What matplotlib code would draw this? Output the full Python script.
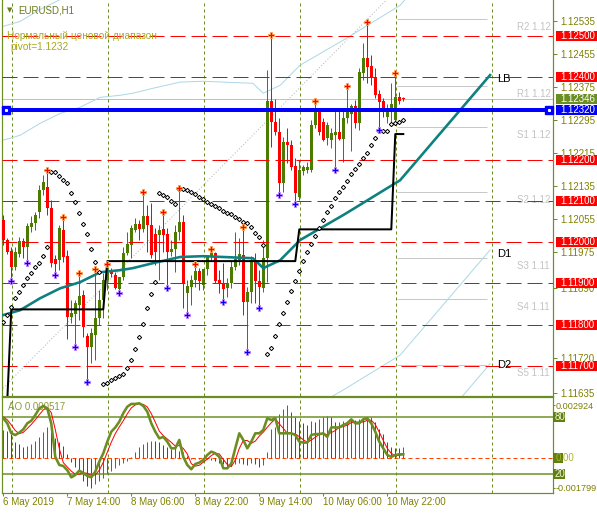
import numpy as np
import matplotlib
matplotlib.use('Agg')
import matplotlib.pyplot as plt
from matplotlib.patches import Rectangle
from matplotlib.transforms import blended_transform_factory

plt.rcParams['font.family'] = ['Liberation Sans', 'DejaVu Sans']

# EURUSD H1, bar 0 is the leftmost bar on the chart
opens = [1.12053, 1.12005, 1.11978, 1.11939, 1.11971, 1.12002, 1.11988, 1.12036, 1.12046, 1.12073,
         1.12126, 1.12133, 1.12082, 1.11959, 1.11956, 1.12029, 1.11966, 1.11818, 1.11825, 1.11847,
         1.11871, 1.11772, 1.11745, 1.11775, 1.11816, 1.11859, 1.11908, 1.11930, 1.11920, 1.11886,
         1.11915, 1.11973, 1.11993, 1.12029, 1.12044, 1.12031, 1.12063, 1.12041, 1.12019, 1.12017,
         1.12031, 1.12019, 1.11976, 1.11983, 1.12024, 1.12048, 1.11876, 1.11891, 1.11908, 1.11930,
         1.11896, 1.11934, 1.11966, 1.11973, 1.11908, 1.11898, 1.11888, 1.11900, 1.11939, 1.11956,
         1.11968, 1.11855, 1.11879, 1.11956, 1.11905, 1.11888, 1.11961, 1.12342, 1.12291, 1.12266,
         1.12143, 1.12242, 1.12235, 1.12184, 1.12109, 1.12172, 1.12174, 1.12174, 1.12283, 1.12320,
         1.12291, 1.12252, 1.12247, 1.12259, 1.12266, 1.12250, 1.12300, 1.12310, 1.12330, 1.12288,
         1.12410, 1.12446, 1.12427, 1.12400, 1.12359, 1.12342, 1.12303, 1.12315, 1.12296, 1.12351,
         1.12349]
highs = [1.12065, 1.12010, 1.11988, 1.11988, 1.12012, 1.12010, 1.12046, 1.12063, 1.12073, 1.12138,
         1.12162, 1.12170, 1.12102, 1.11968, 1.12041, 1.12056, 1.11981, 1.11859, 1.11859, 1.11920,
         1.11884, 1.11779, 1.11791, 1.11930, 1.11884, 1.11925, 1.11942, 1.11937, 1.11927, 1.11915,
         1.11988, 1.12024, 1.12041, 1.12058, 1.12053, 1.12116, 1.12090, 1.12094, 1.12034, 1.12041,
         1.12068, 1.12034, 1.12005, 1.12041, 1.12126, 1.12065, 1.11908, 1.11920, 1.11942, 1.11937,
         1.11932, 1.11968, 1.11978, 1.11976, 1.11932, 1.11949, 1.11913, 1.11956, 1.12024, 1.12010,
         1.12031, 1.11891, 1.11966, 1.11973, 1.11932, 1.12005, 1.12417, 1.12497, 1.12347, 1.12300,
         1.12254, 1.12276, 1.12247, 1.12204, 1.12199, 1.12187, 1.12194, 1.12296, 1.12337, 1.12325,
         1.12300, 1.12291, 1.12276, 1.12320, 1.12322, 1.12320, 1.12373, 1.12334, 1.12344, 1.12422,
         1.12482, 1.12528, 1.12453, 1.12422, 1.12368, 1.12349, 1.12334, 1.12385, 1.12405, 1.12364,
         1.12352]
lows = [1.11993, 1.11971, 1.11910, 1.11932, 1.11964, 1.11961, 1.11955, 1.12024, 1.12029, 1.12058,
        1.12114, 1.12065, 1.11939, 1.11925, 1.11932, 1.11951, 1.11765, 1.11804, 1.11750, 1.11811,
        1.11770, 1.11665, 1.11707, 1.11714, 1.11799, 1.11816, 1.11884, 1.11915, 1.11886, 1.11881,
        1.11908, 1.11968, 1.11961, 1.12024, 1.12005, 1.12024, 1.11976, 1.11961, 1.11944, 1.11908,
        1.11976, 1.11893, 1.11966, 1.11927, 1.12005, 1.11840, 1.11828, 1.11847, 1.11891, 1.11884,
        1.11884, 1.11920, 1.11956, 1.11900, 1.11876, 1.11859, 1.11867, 1.11888, 1.11932, 1.11944,
        1.11823, 1.11738, 1.11852, 1.11852, 1.11845, 1.11879, 1.11903, 1.12230, 1.12259, 1.12119,
        1.12121, 1.12191, 1.12174, 1.12097, 1.12102, 1.12162, 1.12167, 1.12170, 1.12276, 1.12259,
        1.12245, 1.12235, 1.12228, 1.12179, 1.12247, 1.12194, 1.12288, 1.12221, 1.12276, 1.12271,
        1.12393, 1.12385, 1.12381, 1.12349, 1.12276, 1.12303, 1.12288, 1.12288, 1.12283, 1.12334,
        1.12342]
closes = [1.12005, 1.11976, 1.11939, 1.11976, 1.12002, 1.11988, 1.12039, 1.12046, 1.12065, 1.12126,
          1.12145, 1.12082, 1.11949, 1.11947, 1.12034, 1.11964, 1.11818, 1.11828, 1.11852, 1.11869,
          1.11794, 1.11745, 1.11779, 1.11816, 1.11859, 1.11908, 1.11932, 1.11922, 1.11888, 1.11915,
          1.11973, 1.11995, 1.12034, 1.12044, 1.12031, 1.12063, 1.12041, 1.11968, 1.11976, 1.12029,
          1.12017, 1.11976, 1.11983, 1.12024, 1.12048, 1.11900, 1.11893, 1.11908, 1.11930, 1.11905,
          1.11934, 1.11966, 1.11973, 1.11905, 1.11898, 1.11886, 1.11900, 1.11939, 1.11959, 1.11971,
          1.11855, 1.11879, 1.11956, 1.11905, 1.11891, 1.11961, 1.12342, 1.12291, 1.12266, 1.12143,
          1.12242, 1.12235, 1.12182, 1.12119, 1.12174, 1.12182, 1.12182, 1.12283, 1.12320, 1.12266,
          1.12247, 1.12283, 1.12264, 1.12266, 1.12250, 1.12300, 1.12315, 1.12330, 1.12288, 1.12412,
          1.12446, 1.12424, 1.12400, 1.12356, 1.12339, 1.12315, 1.12315, 1.12334, 1.12351, 1.12342,
          1.12346]

# parabolic SAR, one value per bar
sar = [1.11806, 1.11823, 1.11842, 1.11864, 1.11879, 1.11896, 1.11913, 1.11925, 1.11939, 1.11949,
       1.11966, 1.11988, 1.12170, 1.12170, 1.12160, 1.12150, 1.12143, 1.12119, 1.12097, 1.12070,
       1.12044, 1.12019, 1.11983, 1.11951, 1.11927, 1.11656, 1.11658, 1.11665, 1.11670, 1.11675,
       1.11680, 1.11694, 1.11714, 1.11741, 1.11770, 1.11801, 1.11840, 1.11874, 1.11903, 1.12119,
       1.12114, 1.12109, 1.12099, 1.12092, 1.12128, 1.12128, 1.12126, 1.12121, 1.12116, 1.12109,
       1.12104, 1.12097, 1.12092, 1.12087, 1.12082, 1.12075, 1.12070, 1.12068, 1.12060, 1.12056,
       1.12048, 1.12046, 1.12036, 1.12022, 1.12012, 1.11993, 1.11728, 1.11743, 1.11772, 1.11801,
       1.11828, 1.11855, 1.11881, 1.11905, 1.11930, 1.11954, 1.11976, 1.11995, 1.12014, 1.12034,
       1.12053, 1.12073, 1.12087, 1.12107, 1.12121, 1.12133, 1.12148, 1.12165, 1.12177, 1.12189,
       1.12204, 1.12216, 1.12235, 1.12252, 1.12269, 1.12269, 1.12269, 1.12286, 1.12288, 1.12291,
       1.12296]

# fractals (bar numbers)
fractal_up = [11, 15, 19, 23, 26, 35, 40, 44, 48, 52, 60, 67, 78, 86, 91, 98]
fractal_down = [2, 6, 13, 18, 21, 29, 41, 46, 55, 61, 64, 69, 73, 83, 94]

# moving average + its projection (ends at LB)
ma_bar = [-0.8, 4.2, 9.2, 14.2, 19.2, 24.2, 29.2, 32.4, 37.4, 44.2, 50.0, 62.4, 65.0, 69.2, 74.2,
          85.4, 99.2, 114.2, 121.7]
ma_val = [1.11821, 1.11835, 1.11864, 1.11888, 1.11903, 1.11927, 1.11932, 1.11937, 1.11949, 1.11964,
          1.11966, 1.11961, 1.11937, 1.11956, 1.12005, 1.12068, 1.12150, 1.12320, 1.12405]
env_near = 0.00424
env_far = 0.00700

# black step line
step_bar = [0, 1, 2, 25, 26, 73, 74, 97, 98, 100]
step_val = [1.11610, 1.11617, 1.11837, 1.11837, 1.11954, 1.11954, 1.12031, 1.12031, 1.12262, 1.12262]

# dotted diagonal
diag_bar = [-0.1, 97.1]
diag_val = [1.11646, 1.12600]

levels = [1.12500, 1.12400, 1.12200, 1.12100, 1.12000, 1.11900, 1.11800, 1.11700]
pivot = 1.12320
bid = 1.12346
piv_names = ['R2 1.12', 'R1 1.12', 'S1 1.12', 'S2 1.12', 'S3 1.11', 'S4 1.11', 'S5 1.11']
piv_vals = [1.12540, 1.12378, 1.12279, 1.12121, 1.11961, 1.11862, 1.11702]

price_ticks = [1.12535, 1.12455, 1.12375, 1.12295, 1.12215, 1.12135, 1.12055, 1.11975, 1.11890,
               1.11720, 1.11635]

# Awesome oscillator
ao = [0.00140, 0.00138, 0.00121, 0.00079, 0.00070, 0.00053, 0.00058, 0.00070, 0.00087, 0.00104,
      0.00130, 0.00156, 0.00130, 0.00100, 0.00080, 0.00060, 0.00020, -0.00024, -0.00050, -0.00067,
      -0.00118, -0.00144, -0.00155, -0.00137, -0.00118, -0.00106, -0.00086, -0.00067, -0.00055, -0.00038,
      -0.00026, -0.00017, 0.00005, 0.00026, 0.00053, 0.00070, 0.00082, 0.00087, 0.00086, 0.00080,
      0.00062, 0.00053, 0.00045, 0.00050, 0.00034, 0.00026, 0.00010, -0.00010, -0.00008, -0.00010,
      -0.00017, -0.00010, -0.00012, -0.00017, -0.00026, -0.00034, -0.00048, -0.00043, -0.00034, -0.00026,
      -0.00034, -0.00038, -0.00030, -0.00034, -0.00050, -0.00040, 0.00030, 0.00147, 0.00156, 0.00224,
      0.00250, 0.00267, 0.00233, 0.00210, 0.00185, 0.00175, 0.00165, 0.00185, 0.00181, 0.00198,
      0.00207, 0.00215, 0.00207, 0.00180, 0.00182, 0.00186, 0.00188, 0.00190, 0.00192, 0.00195,
      0.00198, 0.00202, 0.00207, 0.00181, 0.00147, 0.00120, 0.00079, 0.00053, 0.00050, 0.00048,
      0.000517]

stoch_main = [78.6, 73.3, 62.8, 61.0, 63.5, 67.0, 73.3, 76.0, 82.0, 89.0,
              91.6, 89.0, 73.0, 38.0, 29.5, 28.4, 24.0, 16.5, 19.0, 23.5,
              21.0, 18.0, 16.5, 22.5, 33.0, 41.8, 54.0, 64.5, 69.0, 75.0,
              84.0, 90.8, 93.7, 93.7, 94.4, 91.6, 85.6, 73.3, 64.5, 57.5,
              59.0, 54.0, 47.0, 47.0, 55.8, 38.0, 29.5, 25.0, 30.5, 32.0,
              34.7, 40.0, 43.5, 41.8, 38.0, 26.0, 26.0, 31.0, 47.0, 62.8,
              55.8, 47.0, 54.0, 62.8, 62.8, 66.3, 78.6, 76.8, 78.6, 62.8,
              62.8, 62.8, 62.8, 61.0, 54.0, 53.0, 53.0, 61.0, 62.0, 62.0,
              62.8, 59.0, 69.0, 69.0, 69.0, 71.6, 73.3, 77.5, 73.3, 73.3,
              77.5, 78.6, 73.3, 64.5, 54.0, 47.0, 40.0, 38.0, 40.0, 40.7,
              40.7]
stoch_signal = [80.0, 77.0, 71.6, 65.7, 62.4, 63.8, 67.9, 72.1, 77.1, 82.3,
                87.5, 89.9, 84.5, 66.7, 46.8, 32.0, 27.3, 23.0, 19.8, 19.7,
                21.2, 20.8, 18.5, 19.0, 24.0, 32.4, 42.9, 53.4, 62.5, 69.5,
                76.0, 83.3, 89.5, 92.7, 93.9, 93.2, 90.5, 83.5, 74.5, 65.1,
                60.3, 56.8, 53.3, 49.3, 49.9, 46.9, 41.1, 30.8, 28.3, 29.2,
                32.4, 35.6, 39.4, 41.8, 41.1, 35.3, 30.0, 27.7, 34.7, 46.9,
                55.2, 55.2, 52.3, 54.6, 59.9, 64.0, 69.2, 73.9, 78.0, 72.7,
                68.1, 62.8, 62.8, 62.2, 59.3, 56.0, 53.3, 55.7, 58.7, 61.7,
                62.3, 61.3, 63.6, 65.7, 69.0, 69.9, 71.3, 74.1, 74.7, 74.7,
                74.7, 76.5, 76.5, 72.1, 63.9, 55.2, 47.0, 41.7, 39.3, 39.6,
                40.5]

time_bars = [0, 16, 32, 48, 64, 80, 96]
time_labels = ['6 May 2019', '7 May 14:00', '8 May 06:00', '8 May 22:00', '9 May 14:00',
               '10 May 06:00', '10 May 22:00']
day_bars = [2.1, 26.1, 50.1, 74.1, 98.1, 122.1]

BULL = '#4b7b00'
BEAR = '#ff0000'
OLIVE = '#6b8e23'
TXT = '#808000'


def px(n):
    # pixels -> points (figure is saved at 100 dpi)
    return n * 0.72


def main():
    fig = plt.figure(figsize=(5.97, 5.14), dpi=100)
    W, H = 597.0, 514.0
    ax = fig.add_axes([2 / W, 118 / H, 551 / W, 396 / H])
    ax_ao = fig.add_axes([2 / W, 21 / H, 551 / W, 96 / H])

    xlim = (-0.325, 137.43)
    ax.set_xlim(*xlim)
    ax.set_ylim(1.11627, 1.12587)

    bars = np.arange(len(opens))
    o, h, l, c = map(np.array, (opens, highs, lows, closes))
    col = np.where(c >= o, BULL, BEAR)

    # candles
    ax.vlines(bars, l, h, colors=col, lw=px(1), zorder=3)
    body = np.maximum(np.abs(c - o), 0.00003)
    ax.bar(bars, body, bottom=np.minimum(o, c), width=0.7, color=col, linewidth=0, zorder=3)

    # horizontal objects
    for lv in levels:
        ax.axhline(lv, color='#ff0000', lw=px(1), dashes=(15, 6), zorder=4)
    ax.axhline(bid, color='#c0c0c0', lw=px(1), zorder=1)
    ax.hlines(piv_vals, 98.4, 121.0, color='#c8c8c8', lw=px(1), zorder=1)
    for name, v in zip(piv_names, piv_vals):
        ax.annotate(name, (128.4, v), xytext=(0, -2), textcoords='offset points',
                    color='#c4c4c4', fontsize=7, va='top', ha='left', annotation_clip=False,
                    clip_on=True)
    for d in day_bars:
        ax.axvline(d, color=OLIVE, lw=px(1), dashes=(3, 3), zorder=1)

    # indicators
    ma_bar_a = np.array(ma_bar)
    ma_val_a = np.array(ma_val)
    for off in (env_near, -env_near, env_far, -env_far):
        ax.plot(ma_bar_a, ma_val_a + off, color='#add8e6', lw=px(1), zorder=2)
    ax.plot(diag_bar, diag_val, color='#b4b4b4', lw=px(1), dashes=(1, 2), zorder=2)
    ax.plot(ma_bar_a, ma_val_a, color='#0f8080', lw=px(2.6), zorder=4)
    ax.plot(step_bar, step_val, color='black', lw=px(2), zorder=4)
    ax.plot(bars, sar, 'D', ms=2.2, mfc='white', mec='black', mew=0.7, ls='none', zorder=5)
    fu = np.array(fractal_up)
    fd = np.array(fractal_down)
    ax.plot(fu, h[fu] + 0.00005, 'P', ms=5, mfc='#ff0000', mec='#ffa050', mew=0.6, ls='none', zorder=5)
    ax.plot(fd, l[fd] - 0.00005, 'P', ms=5, mfc='#0000ff', mec='#c080ff', mew=0.6, ls='none', zorder=5)

    ax.text(123.4, 1.12395, 'LB', fontsize=8, va='center', ha='left', color='black', zorder=6)
    ax.text(123.4, 1.11971, 'D1', fontsize=8, va='center', ha='left', color='black', zorder=6)
    ax.text(123.4, 1.11702, 'D2', fontsize=8, va='center', ha='left', color='black', zorder=6)

    # pivot line
    ax.axhline(pivot, color='#0000ff', lw=px(4), zorder=6)
    ax.plot([0.7, 136.5], [pivot, pivot], 's', ms=5.5, color='#0000ff', clip_on=False, zorder=7)
    ax.plot([0.7, 136.5], [pivot, pivot], 's', ms=1.2, color='white', clip_on=False, zorder=8)

    # header texts
    ax.text(0.0145, 0.974, '\u25bc', transform=ax.transAxes, fontsize=5, color='#6b7a1e',
            ha='center', va='center', family=['DejaVu Sans'])
    ax.text(0.029, 0.974, 'EURUSD,H1', transform=ax.transAxes, fontsize=7, color='#6b7a1e',
            ha='left', va='center')
    ax.text(0.009, 0.909, 'Нормальный ценовой диапазон', transform=ax.transAxes, fontsize=7.3,
            color='#a9a81c', ha='left', va='center', zorder=7)
    ax.text(0.0145, 0.881, 'pivot=1.1232', transform=ax.transAxes, fontsize=7.3,
            color='#a9a81c', ha='left', va='center', zorder=7)

    # right price axis
    ax.set_xticks([])
    ax.yaxis.tick_right()
    ax.set_yticks(price_ticks)
    ax.set_yticklabels(['%.5f' % t for t in price_ticks])
    ax.tick_params(axis='y', colors=OLIVE, labelcolor=TXT, labelsize=7, length=px(4),
                   width=px(1), pad=px(3))
    for s in ('left', 'right', 'bottom'):
        ax.spines[s].set_color(OLIVE)
        ax.spines[s].set_linewidth(px(1.2))
    ax.spines['top'].set_visible(False)

    tr = blended_transform_factory(ax.transAxes, ax.transData)
    bh = 10 / 41250.0
    boxes = [(lv, '%.5f' % lv, '#ff0000') for lv in levels]
    boxes += [(bid, '%.5f' % bid, '#6b8e23'), (pivot, '%.5f' % pivot, '#0000ff')]
    for v, t, fc in boxes:
        ax.add_patch(Rectangle((1.0054, v - bh / 2), 0.09, bh, transform=tr, facecolor=fc,
                               edgecolor='none', clip_on=False, zorder=10))
        ax.text(1.0127, v, t, transform=tr, color='white', fontsize=7, va='center', ha='left',
                clip_on=False, zorder=11)

    # AO panel
    ax_ao.set_xlim(*xlim)
    ax_ao.set_ylim(-0.001821, 0.003104)
    ao_a = np.array(ao)
    ao_col = [BULL] + [BULL if ao_a[i] >= ao_a[i - 1] else BEAR for i in range(1, len(ao_a))]
    ax_ao.vlines(bars, 0, ao_a, colors=ao_col, lw=px(1), zorder=2)
    ax_ao.axhline(0, color='#ff4500', lw=px(1), dashes=(4, 3), zorder=1)
    for d in day_bars:
        ax_ao.axvline(d, color=OLIVE, lw=px(1), dashes=(3, 3), zorder=1)

    ax_st = ax_ao.twinx()
    ax_st.set_ylim(0, 101)
    ax_st.axhline(80, color=OLIVE, lw=px(1.5))
    ax_st.axhline(20, color=OLIVE, lw=px(1.5))
    ax_st.plot(bars, stoch_signal, color='#ff0000', lw=px(1), zorder=3)
    ax_st.plot(bars, stoch_main, color=OLIVE, lw=px(2.6), zorder=4)
    ax_st.set_yticks([])
    for s in ax_st.spines.values():
        s.set_visible(False)

    ax_ao.text(0.011, 0.896, 'AO 0.000517', transform=ax_ao.transAxes, fontsize=7,
               color='#8c9a3a', ha='left', va='center')

    ax_ao.yaxis.tick_right()
    ax_ao.set_yticks([0.00269, 0, -0.00156])
    ax_ao.set_yticklabels(['0.002924', '', '-0.001799'])
    ax_ao.tick_params(axis='y', colors=OLIVE, labelcolor=TXT, labelsize=6.6, length=px(2),
                      width=px(1), pad=px(1))
    ax_ao.set_xticks(time_bars)
    ax_ao.set_xticklabels(time_labels)
    for lab in ax_ao.get_xticklabels():
        lab.set_horizontalalignment('left')
    ax_ao.tick_params(axis='x', colors=OLIVE, labelcolor=TXT, labelsize=7, length=px(3),
                      width=px(1), pad=px(1))
    for s in ax_ao.spines.values():
        s.set_color(OLIVE)
        s.set_linewidth(px(1.2))

    tr_st = blended_transform_factory(ax_st.transAxes, ax_st.transData)
    sh = 10 / 0.95
    for v, t in ((80, '80'), (20, '20')):
        ax_st.add_patch(Rectangle((1.0009, v - sh / 2), 0.02, sh, transform=tr_st,
                                  facecolor='#5f8010', edgecolor='none', clip_on=False, zorder=10))
        ax_st.text(1.0027, v, t, transform=tr_st, color='#f4f4d8', fontsize=7, va='center',
                   ha='left', clip_on=False, zorder=11)
    tr_ao = blended_transform_factory(ax_ao.transAxes, ax_ao.transData)
    ah = 10 * 0.0000513
    ax_ao.add_patch(Rectangle((1.0009, -ah / 2), 0.018, ah, transform=tr_ao,
                              facecolor='#5f8010', edgecolor='none', clip_on=False, zorder=10))
    ax_ao.text(1.0045, 0, '0.00', transform=tr_ao, color='#b0b030', fontsize=7, va='center',
               ha='left', clip_on=False, zorder=11)

    fig.savefig('out.png', dpi=100)


if __name__ == '__main__':
    main()
